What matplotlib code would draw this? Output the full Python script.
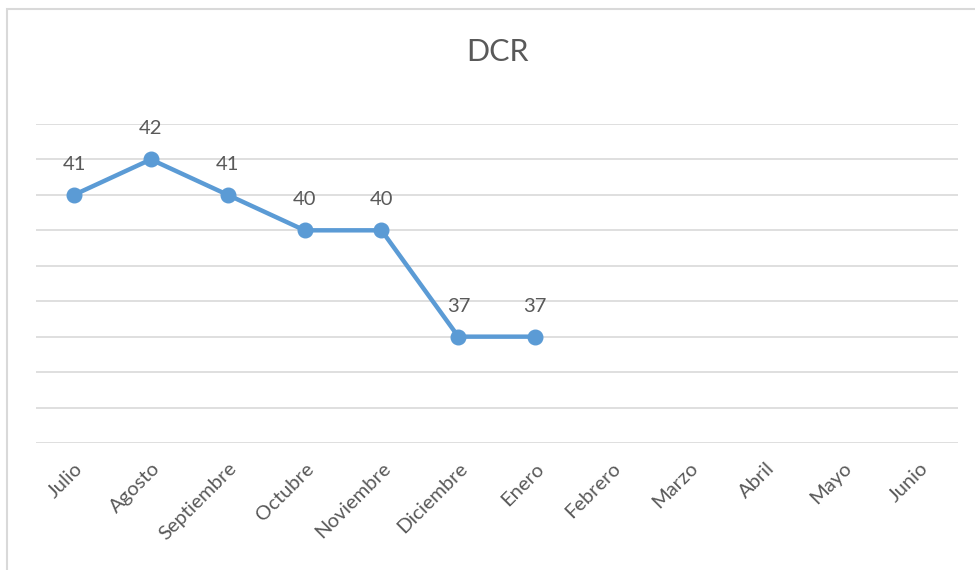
import matplotlib

matplotlib.use("Agg")

import matplotlib.pyplot as plt
from matplotlib.patches import Rectangle

# Datos del grafico DCR
meses = ["Julio", "Agosto", "Septiembre", "Octubre", "Noviembre", "Diciembre",
         "Enero", "Febrero", "Marzo", "Abril", "Mayo", "Junio"]
valores = [41, 42, 41, 40, 40, 37, 37]
titulo = "DCR"

AZUL = "#5B9BD5"
GRIS_TEXTO = "#595959"
GRIS_GRILLA = "#D9D9D9"

plt.rcParams["font.family"] = ["Lato", "DejaVu Sans"]

figura = plt.figure(figsize=(9.75, 5.70), dpi=100)
eje = figura.add_axes([0.0365, 0.2228, 0.946, 0.5597])

x = list(range(len(valores)))
eje.plot(x, valores, color=AZUL, linewidth=3.2, marker="o", markersize=10.5,
         solid_capstyle="round", zorder=3)

# Etiquetas de datos sobre cada punto
for xi, v in zip(x, valores):
    eje.annotate(f"{v}", (xi, v), xytext=(0, 22), textcoords="offset points",
                 ha="center", va="center", fontsize=14.5, color=GRIS_TEXTO)

eje.set_xlim(-0.5, len(meses) - 0.5)
eje.set_ylim(34, 43)
eje.set_yticks(range(34, 44))
eje.set_yticklabels([])
eje.tick_params(axis="y", length=0)
eje.grid(axis="y", color=GRIS_GRILLA, linewidth=1.2)
eje.set_axisbelow(True)

eje.set_xticks(range(len(meses)))
eje.set_xticklabels(meses, rotation=45, ha="right", rotation_mode="anchor",
                    fontsize=14.5, color=GRIS_TEXTO)
eje.tick_params(axis="x", length=0, pad=12)

for lado in eje.spines.values():
    lado.set_visible(False)

figura.text(0.51, 0.908, titulo, ha="center", va="center", fontsize=22,
            color=GRIS_TEXTO)

# Marco del area del grafico
figura.patches.append(Rectangle((7 / 975, -0.1), 1.2, 1 - 9 / 570 + 0.1,
                                transform=figura.transFigure, fill=False,
                                edgecolor=GRIS_GRILLA, linewidth=1.5))

figura.savefig("out.png", dpi=100)
plt.close(figura)
